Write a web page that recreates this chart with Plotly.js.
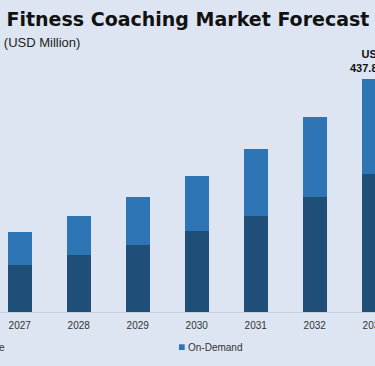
<!DOCTYPE html>
<html>
<head>
<meta charset="utf-8">
<script src="https://cdn.plot.ly/plotly-3.0.1.min.js"></script>
<style>
  html, body { margin: 0; padding: 0; background: #dce5f1; overflow: hidden; }
  #chart { width: 375px; height: 366px; }
</style>
</head>
<body>
<div id="chart"></div>
<script>
// Data read from the (cropped) reference chart, USD Million
const years = ['2027', '2028', '2029', '2030', '2031', '2032', '2033'];
const liveValues = [88.9, 106.4, 125.1, 151.4, 180.8, 215.7, 258.3];
const onDemandValues = [60.6, 74.4, 90.0, 104.4, 124.9, 149.5, 179.5];
const seriesNames = ['Live', 'On-Demand'];
const titleText = 'Fitness Coaching Market Forecast';
const subtitleText = '3 (USD Million)';
const lastLabelPrefix = 'USD';
const lastLabelSuffix = ' Mn';

const BG = '#dce5f1';
const DARK = '#1f4e79';
const LIGHT = '#2e75b6';

const totals = years.map((_, i) => +(liveValues[i] + onDemandValues[i]).toFixed(1));
const lastIdx = years.length - 1;

// plot area geometry helpers (plot spans x 0..375, y 40..312)
const W = 375, H = 366, MT = 40, MB = 54;
const PH = H - MT - MB;
const px = v => v / W;
const py = v => (H - MB - v) / PH;

const traces = [
  {
    type: 'bar', name: seriesNames[0], x: years, y: liveValues,
    marker: { color: DARK }, hoverinfo: 'x+y+name'
  },
  {
    type: 'bar', name: seriesNames[1], x: years, y: onDemandValues,
    marker: { color: LIGHT }, hoverinfo: 'x+y+name'
  }
];

const layout = {
  width: W, height: H,
  margin: { l: 0, r: 0, t: MT, b: MB, pad: 0 },
  paper_bgcolor: BG, plot_bgcolor: BG,
  barmode: 'stack', bargap: 0.593,
  showlegend: false,
  title: {
    text: titleText,
    font: { family: 'DejaVu Sans', size: 19, color: '#111111', weight: 'bold' },
    xref: 'container', x: 6.5 / W, xanchor: 'left',
    yref: 'container', y: 1 - 19 / H, yanchor: 'middle'
  },
  xaxis: {
    type: 'category', range: [-0.334, 6.022],
    showgrid: false, zeroline: false,
    showline: true, linecolor: '#c9d2de', linewidth: 1,
    ticks: '', ticklabelstandoff: 4,
    tickfont: { family: 'Liberation Sans', size: 10, color: '#333333' },
    fixedrange: true
  },
  yaxis: {
    range: [0, PH * 437.8 / 233.4], visible: false, fixedrange: true
  },
  annotations: [
    {
      xref: 'paper', yref: 'paper', x: px(82), y: py(42.5),
      xanchor: 'right', yanchor: 'middle', showarrow: false,
      text: subtitleText,
      font: { family: 'Liberation Sans', size: 13, color: '#222222' }
    },
    {
      xref: 'x', yref: 'y', x: lastIdx, y: totals[lastIdx],
      xanchor: 'center', yanchor: 'bottom', showarrow: false, yshift: 3,
      text: '<b>' + lastLabelPrefix + '</b><br><b>' + totals[lastIdx] + lastLabelSuffix + '</b>',
      font: { family: 'Liberation Sans', size: 11, color: '#111111' }
    },
    {
      xref: 'paper', yref: 'paper', x: px(6.5), y: py(347),
      xanchor: 'right', yanchor: 'middle', showarrow: false,
      text: 'e',
      font: { family: 'Liberation Sans', size: 10, color: '#333333' }
    },
    {
      xref: 'paper', yref: 'paper', x: px(186), y: py(347),
      xanchor: 'left', yanchor: 'middle', showarrow: false,
      text: seriesNames[1],
      font: { family: 'Liberation Sans', size: 10, color: '#333333' }
    }
  ],
  shapes: [
    {
      type: 'rect', xref: 'paper', yref: 'paper',
      x0: px(179), x1: px(184.7), y0: py(350), y1: py(344.3),
      fillcolor: LIGHT, line: { width: 0 }
    }
  ]
};

Plotly.newPlot('chart', traces, layout, { displayModeBar: false, staticPlot: true });
</script>
</body>
</html>
